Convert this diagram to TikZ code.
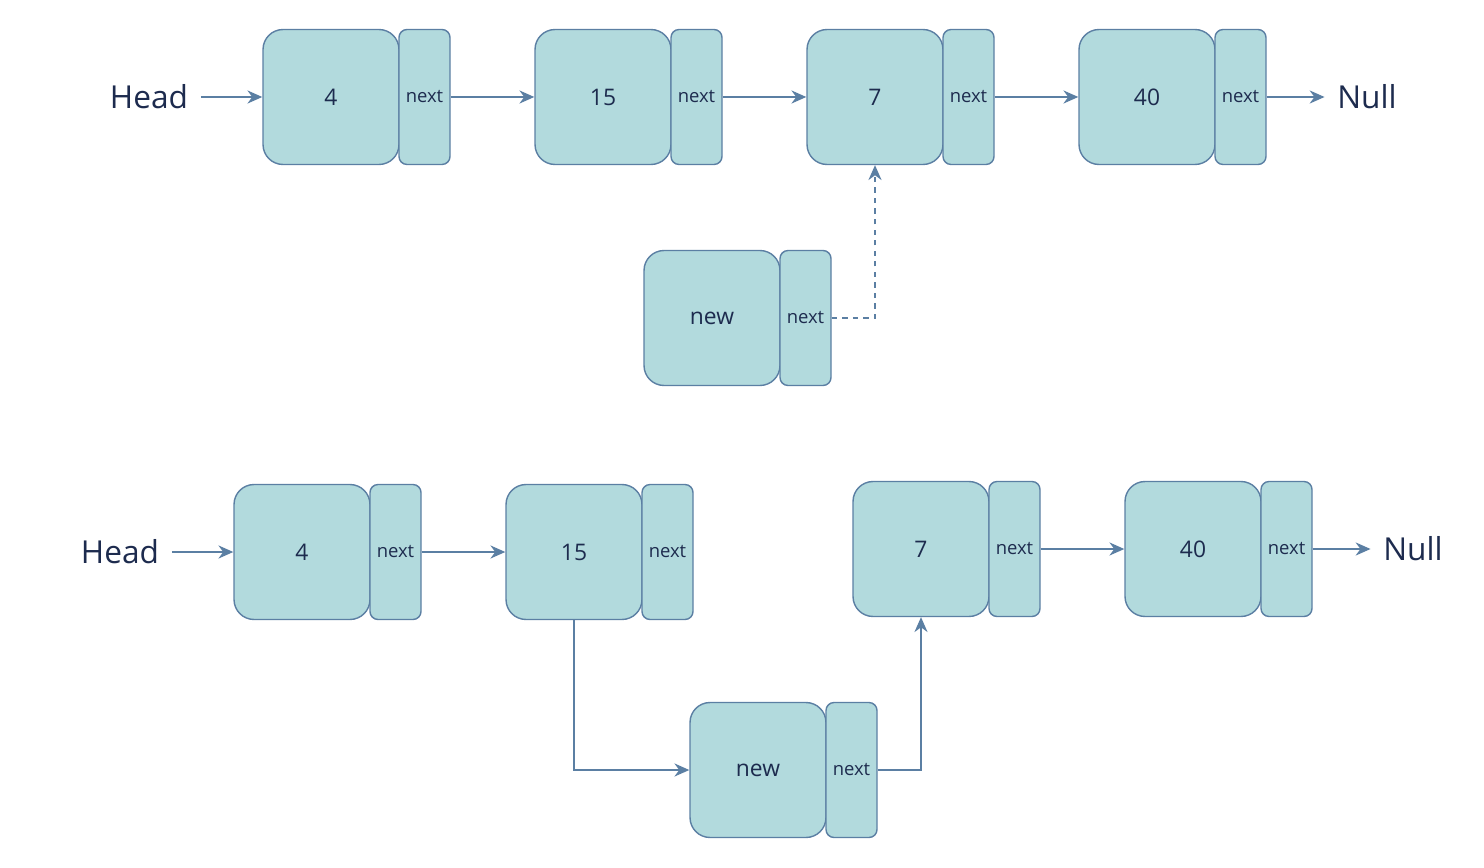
\documentclass[tikz,border=0pt]{standalone}
\usepackage{fontspec}
\setmainfont{Open Sans}
\usetikzlibrary{arrows.meta}
\definecolor{boxfill}{HTML}{B2DADD}
\definecolor{boxline}{HTML}{5B7FA3}
\definecolor{txt}{HTML}{1D2B4E}
\begin{document}
\begin{tikzpicture}[
  x=0.02cm, y=-0.02cm,
  data/.style={draw=boxline, fill=boxfill, line width=0.8pt, rounded corners=0.4cm, minimum width=2.72cm, minimum height=2.7cm, inner sep=0pt, text=txt, font=\fontsize{13}{15}\selectfont},
  ptr/.style={draw=boxline, fill=boxfill, line width=0.8pt, rounded corners=0.16cm, minimum width=1.02cm, minimum height=2.7cm, inner sep=0pt, text=txt, font=\fontsize{10.5}{12}\selectfont},
  label/.style={text=txt, inner sep=0.25cm, font=\fontsize{18}{20}\selectfont},
  arrow/.style={-{Stealth[length=8.5pt, width=7.5pt]}, draw=boxline, line width=0.8pt}
]
\useasboundingbox (0,0) rectangle (1484,868);
% before
\node[label] (head1) at (149,97) {Head};
\node[data] (a1) at (331,97) {4};
\node[ptr] (a1n) at (424.5,97) {next};
\node[data] (a2) at (603,97) {15};
\node[ptr] (a2n) at (696.5,97) {next};
\node[data] (a3) at (875,97) {7};
\node[ptr] (a3n) at (968.5,97) {next};
\node[data] (a4) at (1147,97) {40};
\node[ptr] (a4n) at (1240.5,97) {next};
\node[label] (null1) at (1367,97) {Null};
\node[data] (n1) at (712,318) {new};
\node[ptr] (n1n) at (805.5,318) {next};
\draw[arrow] (head1.east) -- (a1.west);
\draw[arrow] (a1n.east) -- (a2.west);
\draw[arrow] (a2n.east) -- (a3.west);
\draw[arrow] (a3n.east) -- (a4.west);
\draw[arrow] (a4n.east) -- (null1.west);
\draw[arrow, dashed] (n1n.east) -| (a3.south);
% after
\node[label] (head2) at (120,552) {Head};
\node[data] (b1) at (302,552) {4};
\node[ptr] (b1n) at (395.5,552) {next};
\node[data] (b2) at (574,552) {15};
\node[ptr] (b2n) at (667.5,552) {next};
\node[data] (b3) at (921,549) {7};
\node[ptr] (b3n) at (1014.5,549) {next};
\node[data] (b4) at (1193,549) {40};
\node[ptr] (b4n) at (1286.5,549) {next};
\node[label] (null2) at (1413,549) {Null};
\node[data] (n2) at (758,770) {new};
\node[ptr] (n2n) at (851.5,770) {next};
\draw[arrow] (head2.east) -- (b1.west);
\draw[arrow] (b1n.east) -- (b2.west);
\draw[arrow] (b3n.east) -- (b4.west);
\draw[arrow] (b4n.east) -- (null2.west);
\draw[arrow] (b2.south) |- (n2.west);
\draw[arrow] (n2n.east) -| (b3.south);
\end{tikzpicture}
\end{document}
